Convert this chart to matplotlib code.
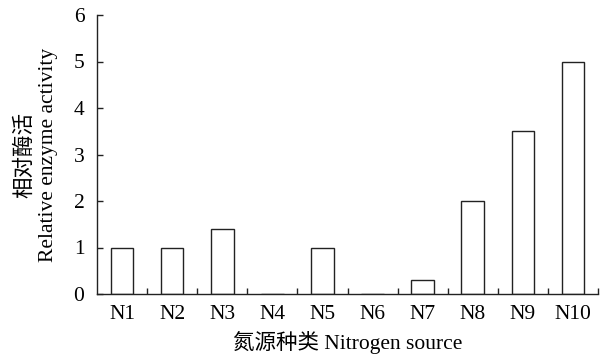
import matplotlib
matplotlib.use("Agg")
import matplotlib.pyplot as plt
import numpy as np

categories = ["N1", "N2", "N3", "N4", "N5", "N6", "N7", "N8", "N9", "N10"]
values = [1.0, 1.0, 1.4, 0.0, 1.0, 0.0, 0.3, 2.0, 3.5, 5.0]
yticks = [0, 1, 2, 3, 4, 5, 6]

fam = ["Liberation Serif", "Noto Sans CJK SC"]
plt.rcParams["font.family"] = fam

fig = plt.figure(figsize=(6.07, 3.59), dpi=100)
ax = fig.add_axes([97/607, 1-294/359, (598-97)/607, (294-15)/359])

x = np.arange(len(categories))
ax.bar(x, values, width=0.45, color="white", edgecolor="#222222", linewidth=1.0)

fs = 15.5
ax.set_xlim(-0.5, len(categories) - 0.5)
ax.set_ylim(0, 6)
ax.set_yticks(yticks)
ax.set_yticklabels([str(t) for t in yticks], fontsize=fs)
ax.set_xticks(x)
ax.set_xticklabels(categories, fontsize=fs)
ax.set_xticks(np.arange(len(categories)) + 0.5, minor=True)
ax.tick_params(axis="x", which="major", length=0, pad=8)
ax.tick_params(axis="x", which="minor", direction="in", length=4, width=1, color="#222222")
ax.tick_params(axis="y", which="major", direction="in", length=4, width=1, color="#222222", pad=9)

for s in ["top", "right"]:
    ax.spines[s].set_visible(False)
for s in ["left", "bottom"]:
    ax.spines[s].set_linewidth(1.0)
    ax.spines[s].set_color("#222222")

ax.set_xlabel("氮源种类 Nitrogen source", fontsize=fs, labelpad=5)
ax.set_ylabel("相对酶活\nRelative enzyme activity", fontsize=fs, labelpad=11, linespacing=1.3)

fig.savefig("out.png", dpi=100)
